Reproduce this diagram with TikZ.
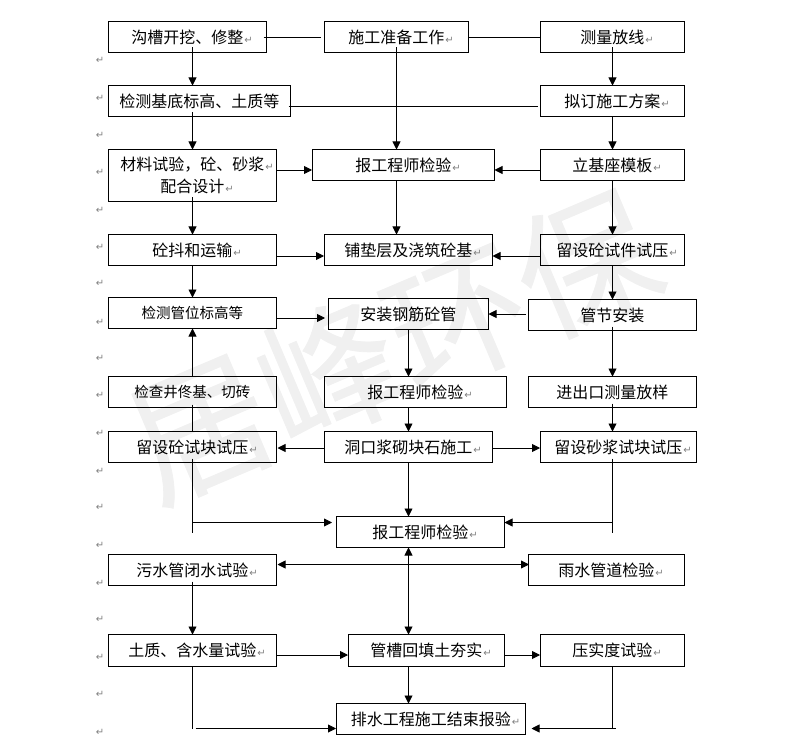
\documentclass[tikz,border=0pt]{standalone}
\usepackage{fontspec}
\usetikzlibrary{arrows.meta}
\setmainfont{Noto Sans CJK SC}
\newfontfamily\markfont{DejaVu Sans}
\newfontfamily\wmfont[FakeBold=0.5]{Noto Sans CJK SC}
\newcommand\rt{\rlap{\hspace{1pt}\color{rtgray}\markfont\fontsize{10}{10}\selectfont ↵}}
\newcommand\smtxt{\fontsize{14.5}{20}\selectfont}
\definecolor{rtgray}{HTML}{808080}
\definecolor{wm}{HTML}{F0F0F0}
\newcommand\Bx[6]{%
  \pgfmathsetmacro\bxcx{(#2+#4)/2}%
  \pgfmathsetmacro\bxcy{(#3+#5)/2}%
  \pgfmathsetmacro\bxw{#4-#2}%
  \pgfmathsetmacro\bxh{#5-#3}%
  \node[flowbox,minimum width=\bxw pt,minimum height=\bxh pt] (#1) at (\bxcx,\bxcy) {#6};}
\tikzset{
  flowbox/.style={draw=black,line width=0.9pt,inner sep=0pt,outer sep=0pt,align=center,
    font=\fontsize{16}{22}\selectfont,text=black},
  conn/.style={line width=0.9pt,draw=black},
  arr/.style={conn,-{Triangle[length=8pt,width=8pt]}},
  darr/.style={conn,{Triangle[length=8pt,width=8pt]}-{Triangle[length=8pt,width=8pt]}},
  pmark/.style={inner sep=0pt,text=rtgray,font=\markfont\fontsize{10}{10}\selectfont},
  wmark/.style={inner sep=0pt,text=wm,font=\wmfont\fontsize{140}{140}\selectfont}
}
\begin{document}
\begin{tikzpicture}[x=1pt,y=-1pt]
\useasboundingbox (0,0) rectangle (797,751);
\node[wmark,rotate=23] (wmk) at (393,345) {居峰环保};
\foreach \yy [count=\i] in {60,98,135,172,210,247,283,322,358,395,433,471,507,545,583,619,657,694,732}{
  \node[pmark] (m\i) at (100,\yy) {↵};
}
\coordinate (L) at (192.5,0);
\coordinate (Cc) at (396.5,0);
\coordinate (M) at (408.5,0);
\coordinate (R) at (612.5,0);
\Bx{A1}{108}{21.5}{266.5}{52.5}{沟槽开挖、修整\rt}
\Bx{A2}{324}{21.5}{468.5}{52.5}{施工准备工作\rt}
\Bx{A3}{540}{21.5}{684.5}{52.5}{测量放线\rt}
\Bx{B1}{108}{85.5}{290.5}{116.5}{检测基底标高、土质等}
\Bx{B3}{540}{85.5}{684.5}{116.5}{拟订施工方案\rt}
\Bx{C1}{108}{149.5}{276.5}{201.5}{材料试验，砼、砂浆\rt\\配合设计\rt}
\Bx{C2}{312}{149.5}{494.5}{180.5}{报工程师检验\rt}
\Bx{C3}{540}{149.5}{684.5}{180.5}{立基座模板\rt}
\Bx{D1}{108}{234.5}{276.5}{265.5}{砼抖和运输\rt}
\Bx{D2}{324}{234.5}{492.5}{265.5}{铺垫层及浇筑砼基\rt}
\Bx{D3}{540}{234.5}{684.5}{265.5}{留设砼试件试压\rt}
\Bx{E1}{108}{297.5}{276.5}{328.5}{\smtxt 检测管位标高等}
\Bx{E2}{328}{298.5}{488.5}{329.5}{安装钢筋砼管}
\Bx{E3}{528}{299.5}{696.5}{330.5}{管节安装}
\Bx{F1}{108}{376.5}{276.5}{407.5}{\smtxt 检查井佟基、切砖}
\Bx{F2}{324}{376.5}{506.5}{407.5}{报工程师检验\rt}
\Bx{F3}{528}{376.5}{696.5}{407.5}{进出口测量放样}
\Bx{G1}{108}{431.5}{276.5}{462.5}{留设砼试块试压\rt}
\Bx{G2}{324}{431.5}{492.5}{462.5}{洞口浆砌块石施工\rt}
\Bx{G3}{540}{431.5}{696.5}{462.5}{留设砂浆试块试压\rt}
\Bx{H}{336}{516.5}{504.5}{547.5}{报工程师检验\rt}
\Bx{I1}{108}{554.5}{276.5}{585.5}{污水管闭水试验\rt}
\Bx{I3}{528}{554.5}{684.5}{585.5}{雨水管道检验\rt}
\Bx{J1}{108}{634.5}{276.5}{666.5}{土质、含水量试验\rt}
\Bx{J2}{348}{634.5}{504.5}{666.5}{管槽回填土夯实\rt}
\Bx{J3}{540}{634.5}{684.5}{666.5}{压实度试验\rt}
\Bx{K}{336}{703.5}{525.5}{734.5}{排水工程施工结束报验\rt}
% y levels
\coordinate (y1) at (0,37.5);
\coordinate (y2) at (0,106.5);
\coordinate (y3) at (0,170);
\coordinate (y4) at (0,256);
\coordinate (y5a) at (0,318);
\coordinate (y5b) at (0,314);
\coordinate (y7) at (0,448);
\coordinate (y8) at (0,522.5);
\coordinate (y9) at (0,564.5);
\coordinate (y10) at (0,655);
\coordinate (y11) at (0,728.5);
% top row plain lines
\draw[conn] ([xshift=-3pt]A1.east |- y1) -- ([xshift=-3pt]A2.west |- y1);
\draw[conn] (A2.east |- y1) -- (A3.west |- y1);
\draw[conn] ([xshift=-2pt]B1.east |- y2) -- ([xshift=-2pt]B3.west |- y2);
% left column
\draw[arr] ([yshift=5pt]L |- A1.south) -- (L |- B1.north);
\draw[arr] ([yshift=4pt]L |- B1.south) -- (L |- C1.north);
\draw[arr] ([yshift=4pt]L |- C1.south) -- (L |- D1.north);
\draw[arr] (L |- D1.south) -- (L |- E1.north);
\draw[arr] (L |- F1.north) -- (L |- E1.south);
\draw[conn] ([yshift=3pt]L |- F1.south) -- (L |- G1.north);
\draw[conn] ([yshift=4pt]L |- G1.south) -- ([yshift=-10pt]L |- y8);
\draw[arr] (L |- y8) -- ([xshift=-4pt]H.west |- y8);
\draw[arr] ([yshift=4pt]L |- I1.south) -- (L |- J1.north);
\draw[conn] (L |- J1.south) -- (L |- y11);
\draw[arr] ([xshift=3pt]L |- y11) -- (K.west |- y11);
% centre columns
\draw[arr] ([yshift=5pt]Cc |- A2.south) -- (Cc |- C2.north);
\draw[arr] (Cc |- C2.south) -- (Cc |- D2.north);
\draw[arr] (M |- E2.south) -- (M |- F2.north);
\draw[arr] (M |- F2.south) -- (M |- G2.north);
\draw[arr] (M |- G2.south) -- (M |- H.north);
\draw[darr] (M |- H.south) -- (M |- J2.north);
\draw[arr] (M |- J2.south) -- (M |- K.north);
% right column
\draw[arr] ([yshift=5pt]R |- A3.south) -- (R |- B3.north);
\draw[arr] (R |- B3.south) -- (R |- C3.north);
\draw[arr] (R |- C3.south) -- (R |- D3.north);
\draw[arr] (R |- D3.south) -- (R |- E3.north);
\draw[arr] ([yshift=4pt]R |- E3.south) -- (R |- F3.north);
\draw[arr] ([yshift=4pt]R |- F3.south) -- (R |- G3.north);
\draw[conn] ([yshift=4pt]R |- G3.south) -- ([yshift=-10pt]R |- y8);
\draw[arr] (R |- y8) -- (H.east |- y8);
\draw[conn] (R |- J3.south) -- (R |- y11);
\draw[arr] ([xshift=3pt]R |- y11) -- ([xshift=6pt]K.east |- y11);
% horizontal
\draw[arr] (C1.east |- y3) -- (C2.west |- y3);
\draw[arr] (C3.west |- y3) -- (C2.east |- y3);
\draw[arr] (D1.east |- y4) -- (D2.west |- y4);
\draw[arr] (D3.west |- y4) -- (D2.east |- y4);
\draw[arr] (E1.east |- y5a) -- ([xshift=-3pt]E2.west |- y5a);
\draw[arr] ([xshift=-2pt]E3.west |- y5b) -- (E2.east |- y5b);
\draw[arr] (G2.west |- y7) -- ([xshift=1pt]G1.east |- y7);
\draw[arr] (G2.east |- y7) -- (G3.west |- y7);
\draw[darr] ([xshift=1pt]I1.east |- y9) -- ([xshift=1pt]I3.west |- y9);
\draw[arr] (J1.east |- y10) -- (J2.west |- y10);
\draw[arr] (J2.east |- y10) -- (J3.west |- y10);
\end{tikzpicture}
\end{document}
